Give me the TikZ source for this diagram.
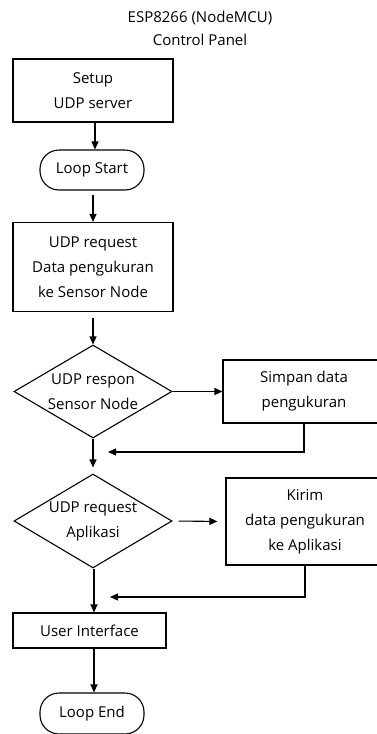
\documentclass[tikz,border=0pt]{standalone}
\usepackage{fontspec}
\setmainfont{Open Sans}
\usetikzlibrary{arrows.meta,shapes.geometric,calc}
\begin{document}
\begin{tikzpicture}[x=1pt,y=-1pt,
  every node/.style={font=\fontsize{15}{25}\selectfont, align=center, inner sep=0pt},
  procbox/.style={draw, line width=1.1pt, rectangle},
  termbox/.style={draw, line width=1.1pt, rectangle, rounded corners=19pt},
  decbox/.style={draw, line width=1.1pt, diamond, inner sep=0pt},
  flow/.style={line width=1.1pt, -{Triangle[length=8pt,width=7pt]}}]
\useasboundingbox (0,0) rectangle (377,734);
\node (title) at (200,28) {ESP8266 (NodeMCU)\\[-2pt]Control Panel};
\node[procbox, minimum width=160pt, minimum height=63pt] (setup) at (93,90.5) {Setup\\UDP server};
\node[termbox, minimum width=104pt, minimum height=40pt] (start) at (92,170) {Loop Start};
\node[procbox, minimum width=160pt, minimum height=89pt] (req) at (93,267) {UDP request\\Data pengukuran\\ke Sensor Node};
\node[decbox, minimum width=158pt, minimum height=93pt, label={[align=center]center:UDP respon\\Sensor Node}] (d1) at (93,391.5) {};
\node[procbox, minimum width=162pt, minimum height=63pt] (simpan) at (304,391.5) {Simpan data\\pengukuran};
\node[decbox, minimum width=158pt, minimum height=94pt, label={[align=center]center:UDP request\\Aplikasi}] (d2) at (93,521) {};
\node[procbox, minimum width=158pt, minimum height=87pt] (kirim) at (305,521.5) {Kirim\\data pengukuran\\ke Aplikasi};
\node[procbox, minimum width=153pt, minimum height=35pt] (ui) at (89.5,630.5) {User Interface};
\node[termbox, minimum width=104pt, minimum height=41pt] (end) at (92,713.5) {Loop End};
\coordinate (j1) at (108,452);
\coordinate (j2) at (110,597);
\draw[flow] (setup.south -| 95,0) -- (start.north -| 95,0);
\draw[flow, shorten <=4pt] (start.south -| 93,0) -- (req.north -| 93,0);
\draw[flow, shorten <=6pt] (req.south) -- (d1.north);
\draw[flow] (d1.east) -- (simpan.west);
\draw[flow] (simpan.south) |- (j1);
\draw[flow, shorten >=6pt] (d1.south) -- (d2.north);
\draw[flow, shorten <=6pt, shorten >=8pt] (d2.east) -- (kirim.west);
\draw[flow] (kirim.south) |- (j2);
\draw[flow] (d2.south -| 94,0) -- (ui.north -| 94,0);
\draw[flow] (ui.south -| 94,0) -- (end.north -| 94,0);
\end{tikzpicture}
\end{document}
